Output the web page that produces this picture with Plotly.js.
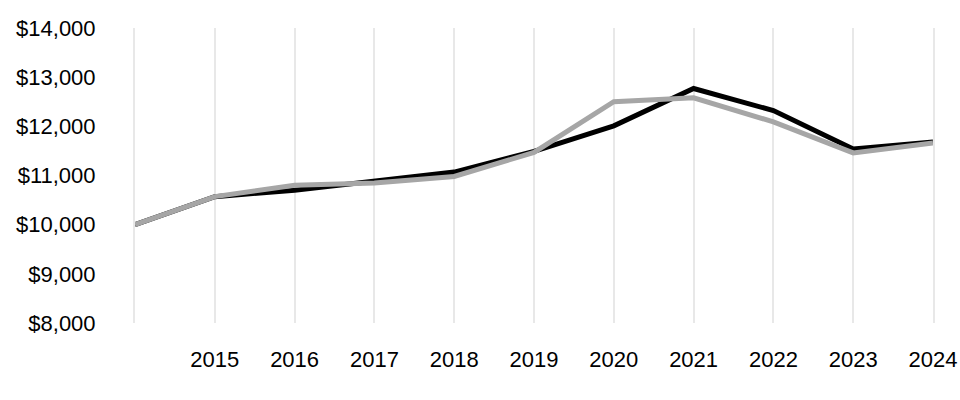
<!DOCTYPE html>
<html><head><meta charset="utf-8">
<script src="https://cdn.plot.ly/plotly-3.0.1.min.js"></script>
<style>html,body{margin:0;padding:0;background:#fff}#chart{width:960px;height:400px}</style>
</head><body><div id="chart"></div>
<script>
const years = [2014, 2015, 2016, 2017, 2018, 2019, 2020, 2021, 2022, 2023, 2024];
const yearLabels = ['', '2015', '2016', '2017', '2018', '2019', '2020', '2021', '2022', '2023', '2024'];
const seriesBlack = [10000, 10570, 10700, 10880, 11070, 11490, 12010, 12770, 12320, 11540, 11680];
const seriesGray  = [10000, 10570, 10800, 10850, 10980, 11470, 12500, 12580, 12090, 11460, 11660];
const yTicks = [8000, 9000, 10000, 11000, 12000, 13000, 14000];

const gridCol = '#e8e8e8';
const traces = [
  {x: years, y: seriesBlack, type: 'scatter', mode: 'lines', line: {color: '#000000', width: 5}, hoverinfo: 'skip'},
  {x: years, y: seriesGray, type: 'scatter', mode: 'lines', line: {color: '#a6a6a6', width: 5}, hoverinfo: 'skip'}
];
const layout = {
  width: 960, height: 400,
  margin: {l: 135, r: 27, t: 28, b: 77},
  showlegend: false,
  paper_bgcolor: '#fff', plot_bgcolor: '#fff',
  font: {family: 'Liberation Sans, Arial, sans-serif', size: 22, color: '#000'},
  xaxis: {
    range: [2014, 2024], tickvals: years, ticktext: yearLabels,
    showgrid: true, gridcolor: gridCol, gridwidth: 2,
    zeroline: false, showline: false, ticks: '', ticklabelstandoff: 21,
    tickfont: {size: 22}
  },
  yaxis: {
    range: [8000, 14000], tickvals: yTicks,
    ticktext: yTicks.map(v => '$' + v.toLocaleString('en-US')),
    showgrid: false, zeroline: false,
    showline: true, mirror: true, linecolor: gridCol, linewidth: 2,
    ticks: '', ticklabelstandoff: 33, tickfont: {size: 22}
  }
};
Plotly.newPlot('chart', traces, layout, {staticPlot: true, displayModeBar: false});
</script></body></html>
